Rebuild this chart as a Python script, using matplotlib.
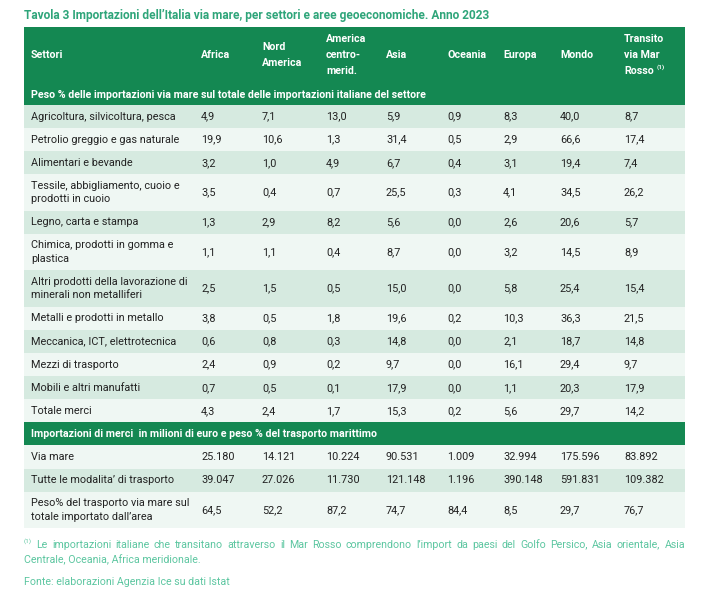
import matplotlib
matplotlib.use("Agg")
import matplotlib.pyplot as plt
from matplotlib.patches import Rectangle

# ---------------- data ----------------
title = "Tavola 3 Importazioni dell’Italia via mare, per settori e aree geoeconomiche. Anno 2023"
first_header = "Settori"
areas = ["Africa", "Nord\nAmerica", "America\ncentro-\nmerid.", "Asia", "Oceania",
         "Europa", "Mondo", "Transito\nvia Mar\nRosso"]
section1 = "Peso % delle importazioni via mare sul totale delle importazioni italiane del settore"
sectors = [
    "Agricoltura, silvicoltura, pesca",
    "Petrolio greggio e gas naturale",
    "Alimentari e bevande",
    "Tessile, abbigliamento, cuoio e\nprodotti in cuoio",
    "Legno, carta e stampa",
    "Chimica, prodotti in gomma e\nplastica",
    "Altri prodotti della lavorazione di\nminerali non metalliferi",
    "Metalli e prodotti in metallo",
    "Meccanica, ICT, elettrotecnica",
    "Mezzi di trasporto",
    "Mobili e altri manufatti",
    "Totale merci",
]
share_by_sector = [
    [4.9, 7.1, 13.0, 5.9, 0.9, 8.3, 40.0, 8.7],
    [19.9, 10.6, 1.3, 31.4, 0.5, 2.9, 66.6, 17.4],
    [3.2, 1.0, 4.9, 6.7, 0.4, 3.1, 19.4, 7.4],
    [3.5, 0.4, 0.7, 25.5, 0.3, 4.1, 34.5, 26.2],
    [1.3, 2.9, 8.2, 5.6, 0.0, 2.6, 20.6, 5.7],
    [1.1, 1.1, 0.4, 8.7, 0.0, 3.2, 14.5, 8.9],
    [2.5, 1.5, 0.5, 15.0, 0.0, 5.8, 25.4, 15.4],
    [3.8, 0.5, 1.8, 19.6, 0.2, 10.3, 36.3, 21.5],
    [0.6, 0.8, 0.3, 14.8, 0.0, 2.1, 18.7, 14.8],
    [2.4, 0.9, 0.2, 9.7, 0.0, 16.1, 29.4, 9.7],
    [0.7, 0.5, 0.1, 17.9, 0.0, 1.1, 20.3, 17.9],
    [4.3, 2.4, 1.7, 15.3, 0.2, 5.6, 29.7, 14.2],
]
section2 = "Importazioni di merci  in milioni di euro e peso % del trasporto marittimo"
label_sea = "Via mare"
label_all = "Tutte le modalita’ di trasporto"
label_share = "Peso% del trasporto via mare sul\ntotale importato dall’area"
sea_imports = [25180, 14121, 10224, 90531, 1009, 32994, 175596, 83892]
all_imports = [39047, 27026, 11730, 121148, 1196, 390148, 591831, 109382]
sea_share = [64.5, 52.2, 87.2, 74.7, 84.4, 8.5, 29.7, 76.7]
footnote_mark = "(1)"
footnote_line1 = ("Le importazioni italiane che transitano attraverso il Mar Rosso comprendono "
                  "l’import da paesi del Golfo Persico, Asia orientale, Asia")
footnote_line2 = "Centrale, Oceania, Africa meridionale."
source = "Fonte: elaborazioni Agenzia Ice su dati Istat"

# ---------------- style ----------------
FONT = "Roboto"
GREEN = "#148852"
ROW_DARK = "#d6eae0"
ROW_LIGHT = "#eff7f3"
TITLE_C = "#2fa57a"
NOTE_C = "#5cc6a0"
TXT = "#222222"

W, H = 714, 601
LEFT, RIGHT = 24, 685
COL_X = [31, 201, 262, 326, 386, 447, 503, 560, 624]
ROW1 = 23.1
ROW2 = 36.5


def fmt_dec(v):
    return f"{v:.1f}".replace(".", ",")


def fmt_int(v):
    return f"{v:,}".replace(",", ".")


fig = plt.figure(figsize=(W / 100, H / 100), dpi=100)
ax = fig.add_axes([0, 0, 1, 1])
ax.set_xlim(0, W)
ax.set_ylim(H, 0)
ax.axis("off")
renderer = fig.canvas.get_renderer()


def text_width(s, size, weight="normal"):
    t = ax.text(0, 0, s, fontsize=size, fontweight=weight, family=FONT)
    w = t.get_window_extent(renderer).width
    t.remove()
    return w


def fit(s, target, weight="normal"):
    return 10 * target / text_width(s, 10, weight)


title_fs = fit(title, 469, "bold")
body_fs = fit(sectors[0], 144)
head_fs = fit(section1, 395, "bold")
note_fs = fit(source, 205)


def multiline(x, yc, s, size, weight="normal", color=TXT, spacing=13.3):
    lines = s.split("\n")
    n = len(lines)
    for i, ln in enumerate(lines):
        y = yc + (i - (n - 1) / 2) * spacing
        ax.text(x, y, ln, fontsize=size, fontweight=weight, color=color,
                family=FONT, va="center", ha="left")


# title
ax.text(LEFT, 16, title, fontsize=title_fs, fontweight="bold", color=TITLE_C,
        family=FONT, va="center", ha="left")

# header block
y = 27
ax.add_patch(Rectangle((LEFT, y), RIGHT - LEFT, 105 - y, color=GREEN, lw=0))
hc = 55
multiline(COL_X[0], hc, first_header, head_fs, "bold", "white", 16)
for x, a in zip(COL_X[1:], areas):
    multiline(x, hc, a, head_fs, "bold", "white", 16)
# superscript on last header
wr = text_width("Rosso", head_fs, "bold")
ax.text(COL_X[-1] + wr + 3, 71 - 3.5, footnote_mark, fontsize=head_fs * 0.6,
        fontweight="bold", color="white", family=FONT, va="center", ha="left")
ax.text(COL_X[0], 94.5, section1, fontsize=head_fs, fontweight="bold", color="white",
        family=FONT, va="center", ha="left")

y = 105


def data_row(y, label, cells, dark):
    h = ROW2 if "\n" in label else ROW1
    ax.add_patch(Rectangle((LEFT, y), RIGHT - LEFT, h,
                           color=ROW_DARK if dark else ROW_LIGHT, lw=0))
    yc = y + h / 2
    multiline(COL_X[0], yc, label, body_fs)
    for x, c in zip(COL_X[1:], cells):
        ax.text(x, yc, c, fontsize=body_fs, color=TXT, family=FONT,
                va="center", ha="left")
    return y + h


for i, (lab, vals) in enumerate(zip(sectors, share_by_sector)):
    y = data_row(y, lab, [fmt_dec(v) for v in vals], i % 2 == 0)

# second section header
ax.add_patch(Rectangle((LEFT, y), RIGHT - LEFT, 23, color=GREEN, lw=0))
ax.text(COL_X[0], y + 11.5, section2, fontsize=head_fs, fontweight="bold",
        color="white", family=FONT, va="center", ha="left")
y += 23
y = data_row(y, label_sea, [fmt_int(v) for v in sea_imports], False)
y = data_row(y, label_all, [fmt_int(v) for v in all_imports], True)
y = data_row(y, label_share, [fmt_dec(v) for v in sea_share], False)

# footnote (justified first line)
ax.text(LEFT, 541, footnote_mark, fontsize=note_fs * 0.6, color=NOTE_C,
        family=FONT, va="center", ha="left")
words = footnote_line1.split(" ")
x0, x1 = 36.5, RIGHT
widths = [text_width(w, note_fs) for w in words]
gap = (x1 - x0 - sum(widths)) / (len(words) - 1)
x = x0
for w, wd in zip(words, widths):
    ax.text(x, 544.5, w, fontsize=note_fs, color=NOTE_C, family=FONT,
            va="center", ha="left")
    x += wd + gap
ax.text(LEFT, 559.5, footnote_line2, fontsize=note_fs, color=NOTE_C, family=FONT,
        va="center", ha="left")
ax.text(LEFT, 582, source, fontsize=note_fs, color=NOTE_C, family=FONT,
        va="center", ha="left")

fig.savefig("out.png", dpi=100, facecolor="white")
